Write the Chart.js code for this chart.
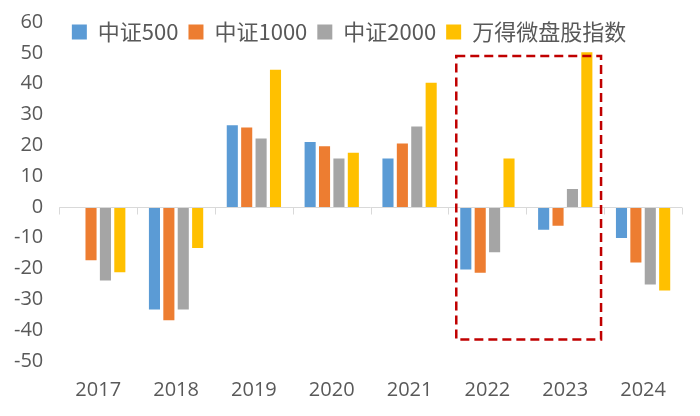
<!DOCTYPE html>
<html><head><meta charset="utf-8">
<script src="https://cdn.jsdelivr.net/npm/chart.js@4.4.1/dist/chart.umd.min.js"></script>
<style>html,body{margin:0;padding:0;background:#fff;}#wrap{width:700px;height:416px;position:relative;}</style>
</head><body><div id="wrap"><canvas id="c"></canvas></div>
<script>
const categories = ['2017','2018','2019','2020','2021','2022','2023','2024'];
const seriesNames = ['中证500','中证1000','中证2000','万得微盘股指数'];
const csi500    = [-0.3, -33.3, 26.5, 21.1, 15.7, -20.3, -7.4, -10.1];
const csi1000   = [-17.3, -36.8, 25.8, 19.7, 20.6, -21.4, -6.1, -18.0];
const csi2000   = [-23.9, -33.3, 22.2, 15.7, 26.1, -14.7, 5.8, -25.2];
const windMicro = [-21.2, -13.3, 44.5, 17.6, 40.3, 15.7, 50.2, -27.1];
const yMin = -50, yMax = 60, yStep = 10;
const highlightFrom = '2022', highlightTo = '2023';
const highlightTop = 49, highlightBottom = -43;

const colors = ['#5B9BD5','#ED7D31','#A5A5A5','#FFC000'];
const textColor = '#595959';
const legendOffsetX = 9, legendOffsetY = -11;

const overlayLegend = {
  id: 'overlayLegend',
  beforeInit(chart) {
    const leg = chart.legend;
    if (!leg) return;
    const f = leg.fit;
    leg.fit = function() { f.call(this); this.height = 0; };
    leg.draw = function() {
      if (!this.options.display) return;
      this.ctx.save();
      this.ctx.translate(legendOffsetX, legendOffsetY);
      this._draw();
      this.ctx.restore();
    };
  }
};

const zeroAxis = {
  id: 'zeroAxis',
  afterDatasetsDraw(chart) {
    const {ctx, scales: {x, y}} = chart;
    const y0 = Math.round(y.getPixelForValue(0)) + 0.5;
    const n = categories.length;
    const cw = (x.right - x.left) / n;
    ctx.save();
    ctx.strokeStyle = '#D9D9D9';
    ctx.lineWidth = 1;
    ctx.beginPath();
    ctx.moveTo(x.left, y0); ctx.lineTo(x.right, y0);
    for (let i = 0; i <= n; i++) {
      const px = Math.round(x.left + i * cw) + 0.5;
      ctx.moveTo(px, y0); ctx.lineTo(px, y0 + 7);
    }
    ctx.stroke();
    ctx.restore();
  }
};

const highlightBox = {
  id: 'highlightBox',
  afterDraw(chart) {
    const {ctx, scales: {x, y}} = chart;
    const n = categories.length;
    const cw = (x.right - x.left) / n;
    const i0 = categories.indexOf(highlightFrom), i1 = categories.indexOf(highlightTo);
    const left = x.getPixelForValue(i0) - cw / 2 + cw * 0.1;
    const right = x.getPixelForValue(i1) + cw / 2 - cw * 0.04;
    const top = y.getPixelForValue(highlightTop);
    const bottom = y.getPixelForValue(highlightBottom);
    ctx.save();
    ctx.strokeStyle = '#C00000';
    ctx.lineWidth = 2.5;
    ctx.setLineDash([9, 5]);
    ctx.strokeRect(left, top, right - left, bottom - top);
    ctx.restore();
  }
};

const seriesData = [csi500, csi1000, csi2000, windMicro];
new Chart(document.getElementById('c'), {
  type: 'bar',
  data: {
    labels: categories,
    datasets: seriesNames.map((name, i) => ({
      label: name,
      data: seriesData[i],
      backgroundColor: colors[i],
      borderWidth: 0,
      categoryPercentage: 0.74,
      barPercentage: 0.77
    }))
  },
  options: {
    responsive: true,
    maintainAspectRatio: false,
    animation: false,
    layout: { padding: { top: 22, left: -2, right: 18, bottom: -3 } },
    plugins: {
      legend: {
        position: 'top',
        labels: {
          boxWidth: 15, boxHeight: 15, padding: 10,
          color: textColor,
          font: { family: "'Noto Sans CJK SC'", size: 22 }
        }
      },
      tooltip: { enabled: false }
    },
    scales: {
      x: {
        grid: { display: false, drawTicks: false },
        border: { display: false },
        ticks: { color: textColor, padding: 17, font: { family: "'Open Sans'", size: 20 } }
      },
      y: {
        min: yMin, max: yMax,
        grid: { display: false, drawTicks: false },
        border: { display: false },
        afterFit(scale) { scale.paddingTop = 0; scale.paddingBottom = 0; },
        ticks: { stepSize: yStep, color: textColor, padding: 16, font: { family: "'Open Sans'", size: 20 } }
      }
    }
  },
  plugins: [overlayLegend, zeroAxis, highlightBox]
});
</script>
</body></html>
